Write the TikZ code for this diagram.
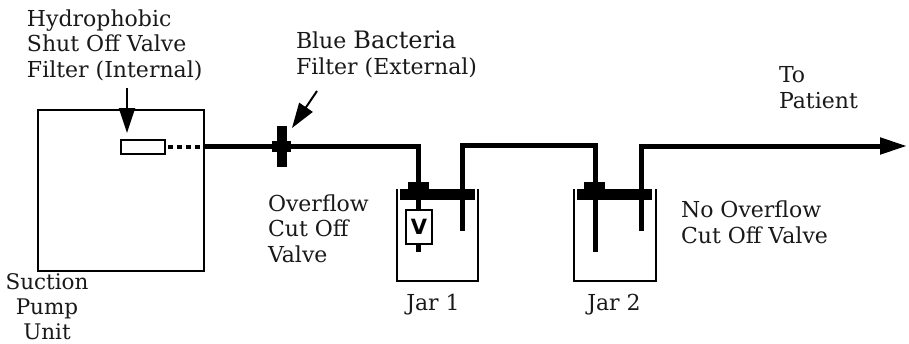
\documentclass[tikz,border=0pt]{standalone}
\usepackage{fontspec}
\setmainfont{DejaVu Serif}
\usetikzlibrary{arrows.meta}
\newfontfamily\vfont{DejaVu Sans}
\tikzset{
 x=1pt,y=-1pt,
 lbl/.style={inner sep=0pt,outer sep=0pt,align=left,anchor=base west,font=\fontsize{22}{25.5}\selectfont,text=black!90},
 ctr/.style={lbl,align=center,anchor=base},
 pipe/.style={line width=5pt,line cap=butt,line join=miter},
 outline/.style={line width=2pt,draw=black},
 pointer/.style={line width=2pt,-{Triangle[length=25pt,width=16pt]}},
 solid block/.style={fill=black,draw=none,inner sep=0pt,outer sep=0pt},
}
\begin{document}
\begin{tikzpicture}
\useasboundingbox (0,0) rectangle (909,343);
% labels
\node[lbl] (hydro) at (27,77) {Hydrophobic\\Shut Off Valve\\Filter (Internal)};
\node[lbl] (blue) at (296,74) {Blue {\fontsize{24}{25.5}\selectfont Bacteria}\\Filter (External)};
\node[lbl] (over) at (268,262) {Overflow\\Cut Off\\Valve};
\node[lbl] (noover) at (681,243) {No Overflow\\Cut Off Valve};
\node[lbl] (to) at (779,108) {To\\Patient};
\node[ctr,font=\fontsize{21.5}{25}\selectfont] (suct) at (47,339) {Suction\\Pump\\Unit};
% pump
\node[outline,draw,minimum width=166pt,minimum height=161pt,inner sep=0pt,anchor=north west] (pump) at (37,109) {};
\node[outline,draw,fill=white,minimum width=44pt,minimum height=14pt,inner sep=0pt,anchor=west] (hfilter) at (120,146.5) {};
\coordinate (pumpexit) at (pump.east |- hfilter.east);
\draw[line width=4pt,dash pattern=on 5pt off 4pt] (hfilter.east) ++(2,0) -- (pumpexit);
% bacteria filter
\node[solid block,minimum width=10pt,minimum height=41pt] (bf) at (282,146.5) {};
\node[solid block,minimum width=19pt,minimum height=11pt] (bfh) at (281.5,146.5) {};
% jars
\coordinate (j1nw) at (397,189); \coordinate (j1sw) at (397,281);
\coordinate (j1se) at (478,281); \coordinate (j1ne) at (478,189);
\coordinate (j2nw) at (574,189); \coordinate (j2sw) at (574,281);
\coordinate (j2se) at (656,281); \coordinate (j2ne) at (656,189);
\draw[outline] (j1nw) -- (j1sw) -- (j1se) -- (j1ne);
\draw[outline] (j2nw) -- (j2sw) -- (j2se) -- (j2ne);
\coordinate (a1) at (418,146.5); \coordinate (a1e) at (418,252);
\coordinate (a2) at (462,145); \coordinate (a2e) at (462,231);
\coordinate (b1) at (595,145); \coordinate (b1e) at (595,252);
\coordinate (b2) at (641,146); \coordinate (b2e) at (641,231);
\coordinate (tip) at (907,146);
\draw[pipe] (pumpexit) -- (a1) -- (a1e);
\draw[pipe] (a2e) -- (a2) -- (b1) -- (b1e);
\draw[pipe,-{Triangle[length=27pt,width=16pt,sep=0pt]}] (b2e) -- (b2) -- (tip);
\node[solid block,minimum width=75pt,minimum height=11pt,anchor=north west] (lid1) at (400,189) {};
\node[solid block,minimum width=21pt,minimum height=7pt,anchor=south west] at (408,189) (cap1) {};
\node[solid block,minimum width=75pt,minimum height=11pt,anchor=north west] (lid2) at (577,189) {};
\node[solid block,minimum width=21pt,minimum height=7pt,anchor=south west] at (584,189) (cap2) {};
\node[outline,draw,fill=white,minimum width=26pt,minimum height=34pt,inner sep=0pt,anchor=north west,font=\vfont\bfseries\fontsize{21}{21}\selectfont] (valve) at (405,209) {V};
\node[ctr] (jar1) at (433,310) {Jar 1};
\node[ctr] (jar2) at (614,310) {Jar 2};
% pointers
\coordinate (hs) at (127,88); \coordinate (he) at (127,133);
\draw[pointer] (hs) -- (he);
\coordinate (bs) at (317,91); \coordinate (be) at (292,128);
\draw[pointer] (bs) -- (be);
\end{tikzpicture}
\end{document}
